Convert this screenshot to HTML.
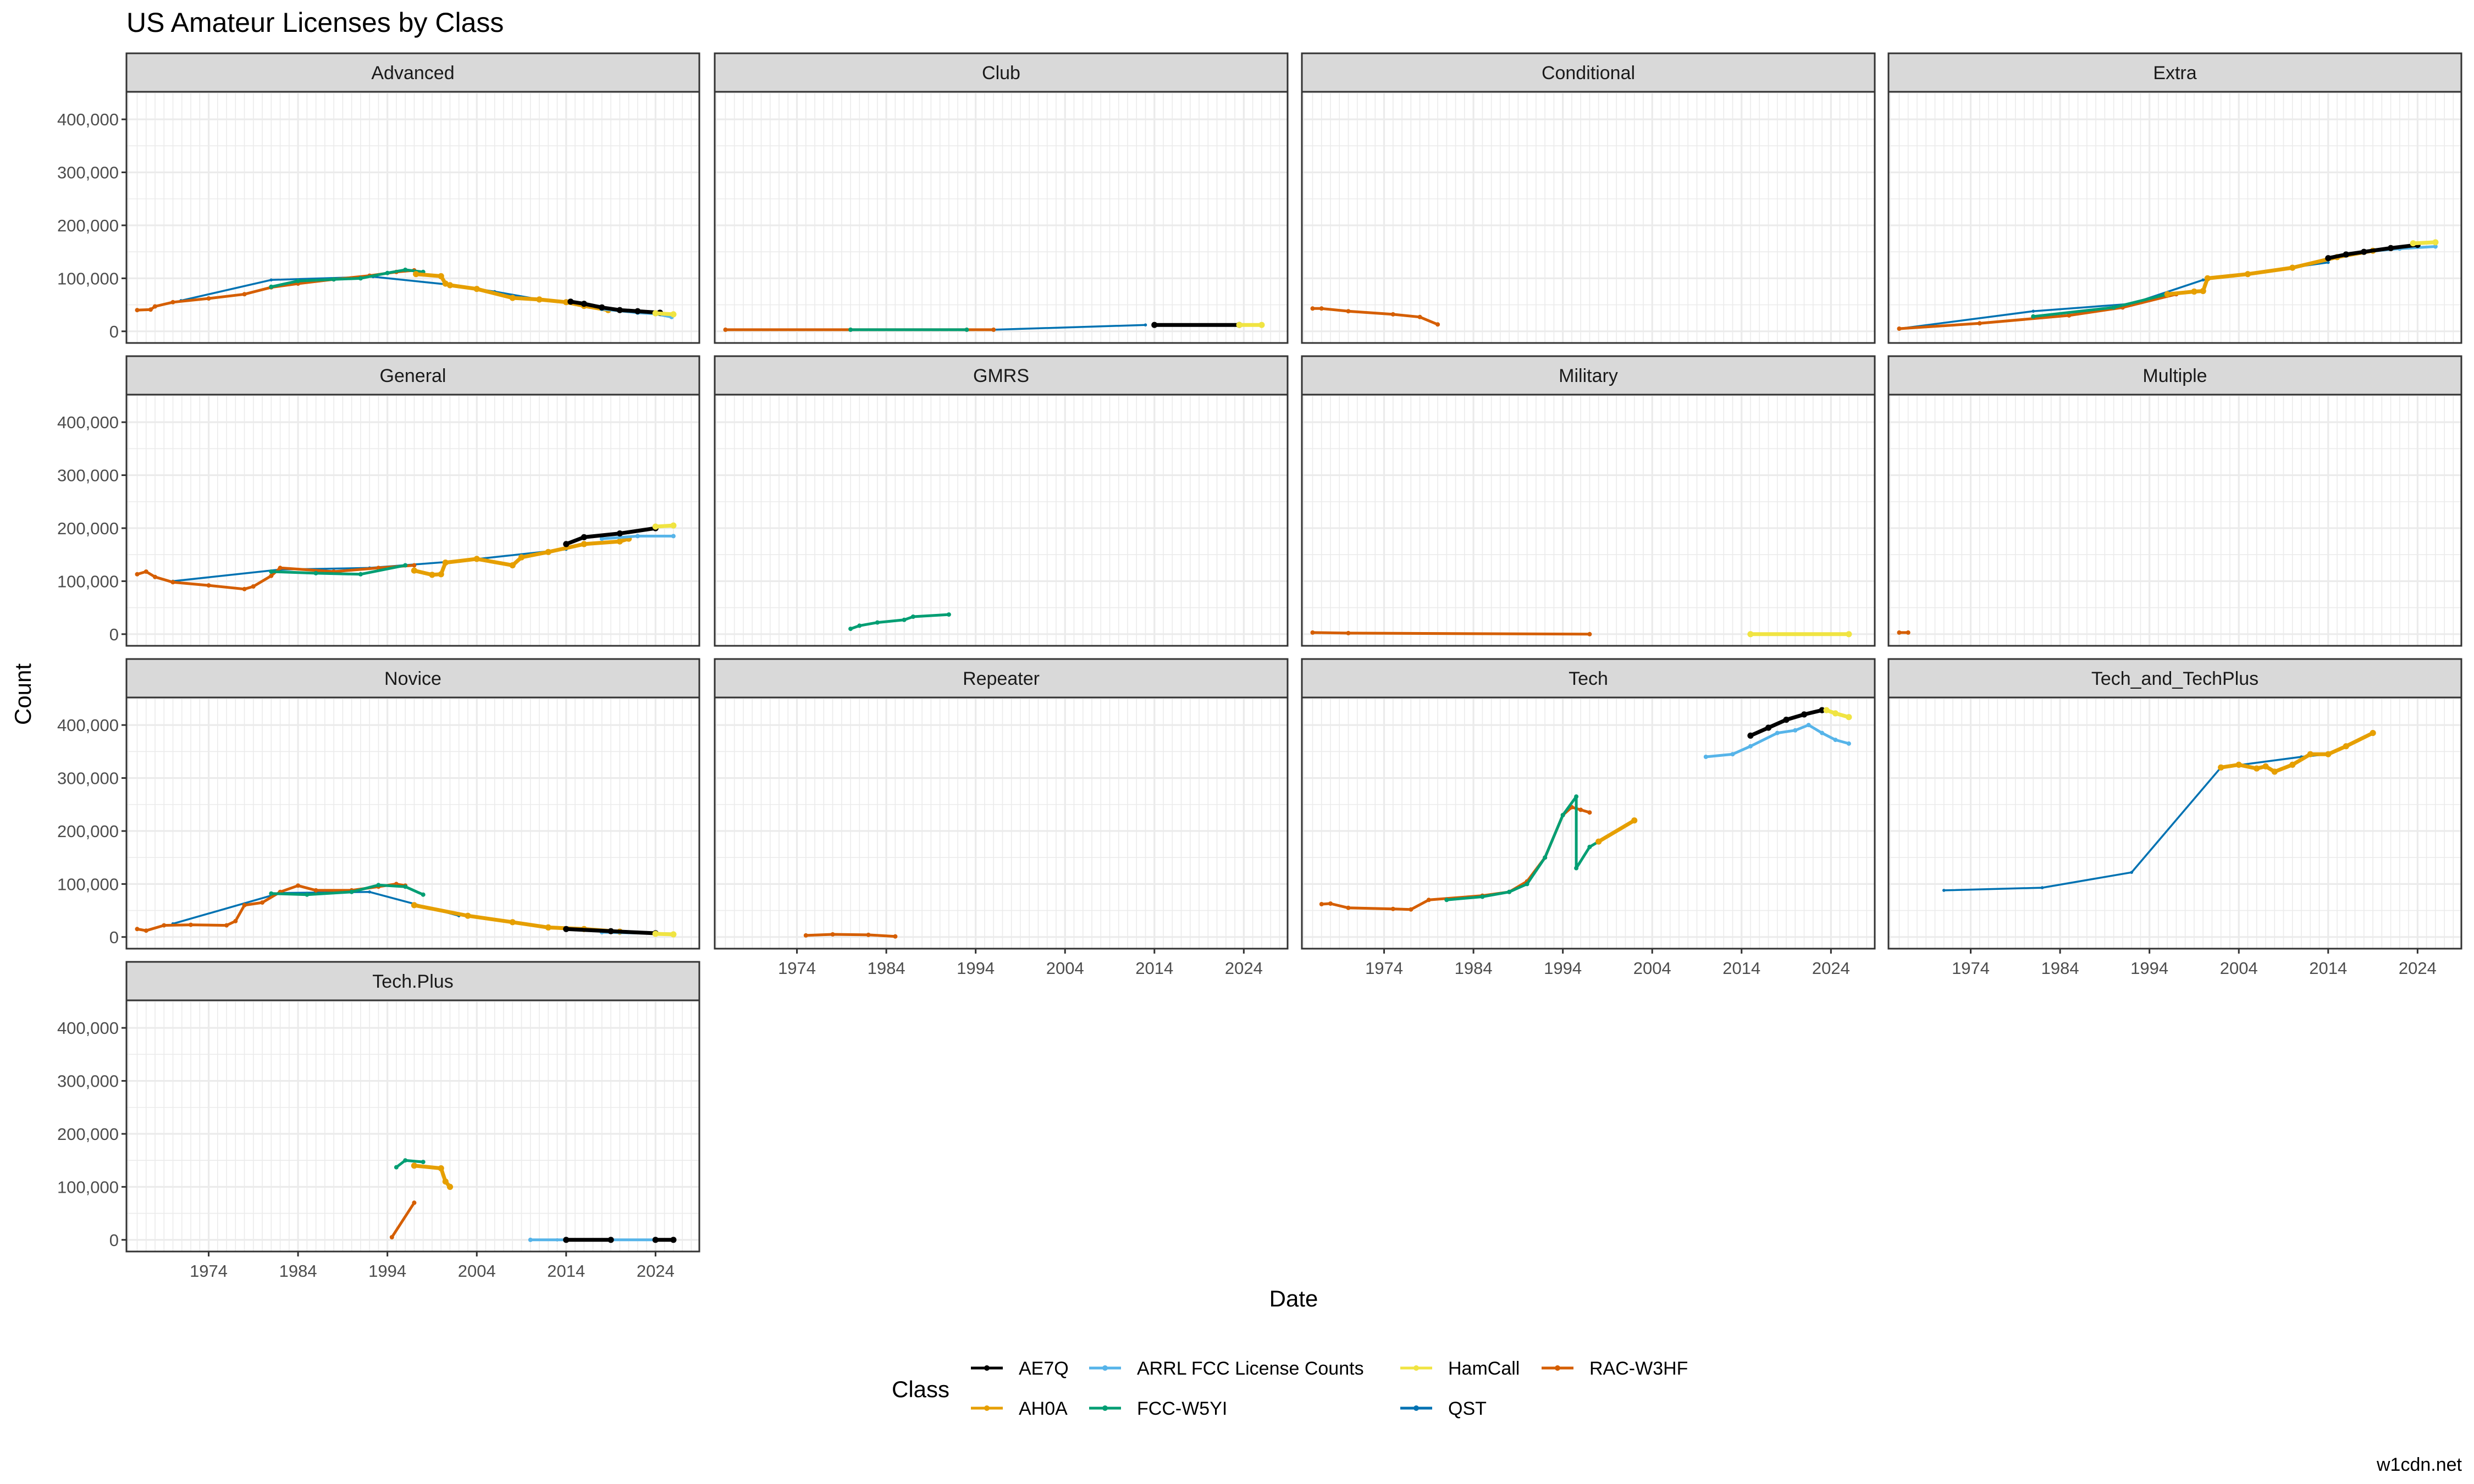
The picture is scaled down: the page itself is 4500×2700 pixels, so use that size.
<!DOCTYPE html>
<html><head><meta charset="utf-8"><style>
html,body{margin:0;padding:0;background:#fff;}
svg{display:block;font-family:"Liberation Sans",Arial,sans-serif;}
</style></head><body>
<svg id="s" width="4500" height="2700" xmlns="http://www.w3.org/2000/svg"></svg>
<script>
const S=document.getElementById('s');let h='';
const C={AE7Q:'#000000',AH0A:'#E69F00',ARRL:'#56B4E9',FCC:'#009E73',Ham:'#F0E442',QST:'#0072B2',RAC:'#D55E00'};
const colL=[230,1300,2368,3435],W=1042,rowT=[97,648,1199,1750],SH=70,PH=457;
const X0=1964.8,X1=2028.9,YMAX=452000,YMIN=-22000;
function px(c,y){return colL[c]+(y-X0)/(X1-X0)*W;}
function py(r,v){return rowT[r]+SH+(YMAX-v*1000)/(YMAX-YMIN)*PH;}
const panels=[
['Advanced',0,0,{RAC:[[1966,40],[1967.5,41],[1968,47],[1970,55],[1974,62],[1978,70],[1981,83],[1984,90],[1988,98],[1992,105],[1995,112],[1997,115]],
 QST:[[1970.9,58],[1981,97],[1992.4,103],[2000.9,88],[2006,75],[2011,60],[2014,55]],
 FCC:[[1981,84],[1984,95],[1988,98],[1991,100],[1994,110],[1996,116],[1998,112]],
 AH0A:[[1997.2,108],[2000,104],[2000.5,90],[2001,87],[2004,80],[2008,63],[2011,60],[2014,55],[2016,48],[2018.7,40]],
 ARRL:[[2018,42],[2022,35],[2024,33],[2025.8,27]],
 AE7Q:[[2014.5,56],[2016,52],[2018,45],[2020,40],[2022,38],[2024.5,35]],
 Ham:[[2024,34],[2026,32]]}],
['Club',0,1,{RAC:[[1966,3],[1996,3]],FCC:[[1980,3],[1993,3]],QST:[[1996,3],[2013,12]],AE7Q:[[2014,12],[2023.5,12]],Ham:[[2023.5,12],[2026,12]]}],
['Conditional',0,2,{RAC:[[1966,43],[1967,43],[1970,38],[1975,32],[1978,27],[1980,13]]}],
['Extra',0,3,{RAC:[[1966,5],[1975,15],[1985,30],[1991,45],[1997,70]],
 QST:[[1966,5],[1981,38],[1992,52],[2000,97],[2014,130]],
 FCC:[[1981,28],[1990,45],[1996,70]],
 AH0A:[[1996,70],[1999,75],[2000,76],[2000.5,100],[2005,108],[2010,120],[2015,140],[2019,152]],
 ARRL:[[2018,150],[2022,156],[2026,160]],
 AE7Q:[[2014,138],[2016,145],[2018,150],[2021,157],[2024,163]],
 Ham:[[2023.5,166],[2026,168]]}],
['General',1,0,{RAC:[[1966,113],[1967,118],[1968,108],[1970,98],[1974,92],[1978,85],[1979,90],[1981,110],[1982,125],[1988,118],[1993,125],[1997,130]],
 QST:[[1970,100],[1982,122],[1992,125],[2002,138],[2014,160]],
 FCC:[[1981,118],[1986,115],[1991,113],[1996,130]],
 AH0A:[[1997,120],[1999,112],[2000,113],[2000.5,135],[2004,142],[2008,130],[2009,145],[2012,155],[2016,170],[2020,175],[2021,180]],
 ARRL:[[2018,180],[2022,185],[2026,185]],
 AE7Q:[[2014,170],[2016,183],[2020,190],[2024,200]],
 Ham:[[2024,203],[2026,205]]}],
['GMRS',1,1,{FCC:[[1980,10],[1981,16],[1983,22],[1986,27],[1987,33],[1991,37]]}],
['Military',1,2,{RAC:[[1966,3],[1970,2],[1997,0]],Ham:[[2015,0],[2026,0]]}],
['Multiple',1,3,{RAC:[[1966,3],[1967,3]]}],
['Novice',2,0,{RAC:[[1966,15],[1967,12],[1969,22],[1972,23],[1976,22],[1977,30],[1978,60],[1980,65],[1982,85],[1984,97],[1986,88],[1990,88],[1993,95],[1995,100],[1996,97]],
 QST:[[1970,25],[1982,83],[1992,85],[2002,40]],
 FCC:[[1981,82],[1985,80],[1990,85],[1993,98],[1996,95],[1998,80]],
 AH0A:[[1997,60],[2003,40],[2008,28],[2012,18],[2016,15],[2020,10]],
 ARRL:[[2018,9],[2026,6]],
 AE7Q:[[2014,15],[2019,11],[2024,7]],
 Ham:[[2024,6],[2026,5]]}],
['Repeater',2,1,{RAC:[[1975,3],[1978,5],[1982,4],[1985,1]]}],
['Tech',2,2,{RAC:[[1967,62],[1968,63],[1970,55],[1975,53],[1977,52],[1979,70],[1985,78],[1988,85],[1990,105],[1992,150],[1994,230],[1995,245],[1996,240],[1997,235]],
 FCC:[[1981,70],[1985,76],[1988,85],[1990,100],[1992,150],[1994,230],[1995.5,265],[1995.5,130],[1997,170],[1998,180]],
 AH0A:[[1998,180],[2002,220]],
 ARRL:[[2010,340],[2013,345],[2015,360],[2018,385],[2020,390],[2021.5,400],[2023,385],[2024.5,372],[2026,365]],
 AE7Q:[[2015,380],[2017,395],[2019,410],[2021,420],[2023,428]],
 Ham:[[2023.5,428],[2024.5,422],[2026,415]]}],
['Tech_and_TechPlus',2,3,{QST:[[1971,88],[1982,93],[1992,122],[2002,320],[2011,340],[2014,345]],
 AH0A:[[2002,320],[2004,325],[2006,318],[2007,322],[2008,312],[2010,325],[2012,345],[2014,345],[2016,360],[2019,385]]}],
['Tech.Plus',3,0,{FCC:[[1995,137],[1996,150],[1998,147]],AH0A:[[1997,140],[2000,135],[2000.5,110],[2001,100]],RAC:[[1994.5,5],[1997,70]],
 ARRL:[[2010,0],[2026,0]],QST:[[2013,0],[2015,0]],AE7Q:[[2014,0],[2019,0]],AE7Q2:[[2024,0],[2026,0]]}]
];
const yrs=[1974,1984,1994,2004,2014,2024];
const fs='font-family="Liberation Sans,Arial,sans-serif"';
panels.forEach(([name,r,c,data])=>{
 const L=colL[c],T=rowT[r];
 h+=`<rect x="${L}" y="${T}" width="${W}" height="${SH}" fill="#D9D9D9" stroke="#333" stroke-width="3"/>`;
 h+=`<text x="${L+W/2}" y="${T+SH/2+12}" text-anchor="middle" font-size="34" fill="#1A1A1A">${name}</text>`;
 const pt=T+SH,pb=pt+PH;
 h+=`<g clip-path="none">`;
 for(let y=1965;y<=2028;y++){const x=px(c,y);if(yrs.includes(y))continue;h+=`<line x1="${x}" y1="${pt}" x2="${x}" y2="${pb}" stroke="#EBEBEB" stroke-width="1.6"/>`;}
 for(let v=50;v<=450;v+=100){const y=py(r,v);h+=`<line x1="${L}" y1="${y}" x2="${L+W}" y2="${y}" stroke="#EBEBEB" stroke-width="1.6"/>`;}
 yrs.forEach(y=>{const x=px(c,y);h+=`<line x1="${x}" y1="${pt}" x2="${x}" y2="${pb}" stroke="#EBEBEB" stroke-width="3.2"/>`;});
 for(let v=0;v<=400;v+=100){const y=py(r,v);h+=`<line x1="${L}" y1="${y}" x2="${L+W}" y2="${y}" stroke="#EBEBEB" stroke-width="3.2"/>`;}
 h+='</g>';
 const order=['QST','RAC','FCC','AH0A','ARRL','AE7Q','AE7Q2','Ham'];
 order.forEach(k=>{if(!data[k])return;const col=C[k==='AE7Q2'?'AE7Q':k];
  const sw=(k==='QST'?3.5:(k==='AH0A'||k==='AE7Q'||k==='AE7Q2'||k==='Ham'?7:5));
  const pts=data[k].map(p=>px(c,p[0]).toFixed(1)+','+py(r,p[1]).toFixed(1)).join(' ');
  h+=`<polyline points="${pts}" fill="none" stroke="${col}" stroke-width="${sw}" stroke-linejoin="round" stroke-linecap="round"/>`;
  data[k].forEach(p=>{h+=`<circle cx="${px(c,p[0]).toFixed(1)}" cy="${py(r,p[1]).toFixed(1)}" r="${sw*0.8}" fill="${col}"/>`;});
 });
 h+=`<rect x="${L}" y="${pt}" width="${W}" height="${PH}" fill="none" stroke="#333" stroke-width="3"/>`;
 if(c===0){for(let v=0;v<=400;v+=100){const y=py(r,v);h+=`<line x1="${L-9}" y1="${y}" x2="${L}" y2="${y}" stroke="#333" stroke-width="3"/>`;
  const lab=v===0?'0':v+',000';h+=`<text x="${L-14}" y="${y+11}" text-anchor="end" font-size="31" fill="#4D4D4D">${lab}</text>`;}}
 if((r===2&&c>0)||(r===3&&c===0)){yrs.forEach(y=>{const x=px(c,y);h+=`<line x1="${x}" y1="${pb}" x2="${x}" y2="${pb+9}" stroke="#333" stroke-width="3"/>`;
  h+=`<text x="${x}" y="${pb+46}" text-anchor="middle" font-size="31" fill="#4D4D4D">${y}</text>`;});}
});
h+=`<text x="230" y="58" font-size="50" fill="#000">US Amateur Licenses by Class</text>`;
h+=`<text x="2353" y="2377" text-anchor="middle" font-size="42" fill="#000">Date</text>`;
h+=`<text transform="translate(56,1263) rotate(-90)" text-anchor="middle" font-size="42" fill="#000">Count</text>`;
h+=`<text x="1622" y="2542" font-size="42" fill="#000">Class</text>`;
const leg=[['AE7Q',1766,2489,'AE7Q'],['AH0A',1766,2562,'AH0A'],['ARRL',1981,2489,'ARRL FCC License Counts'],['FCC',1981,2562,'FCC-W5YI'],['Ham',2547,2489,'HamCall'],['QST',2547,2562,'QST'],['RAC',2804,2489,'RAC-W3HF']];
leg.forEach(([k,x,y,t])=>{h+=`<line x1="${x}" y1="${y}" x2="${x+58}" y2="${y}" stroke="${C[k]}" stroke-width="5"/><circle cx="${x+29}" cy="${y}" r="5" fill="${C[k]}"/>`;
 h+=`<text x="${x+87}" y="${y+12}" font-size="34" fill="#000">${t}</text>`;});
h+=`<text x="4478" y="2676" text-anchor="end" font-size="34" fill="#000">w1cdn.net</text>`;
S.innerHTML=h;
</script>
</body></html>
